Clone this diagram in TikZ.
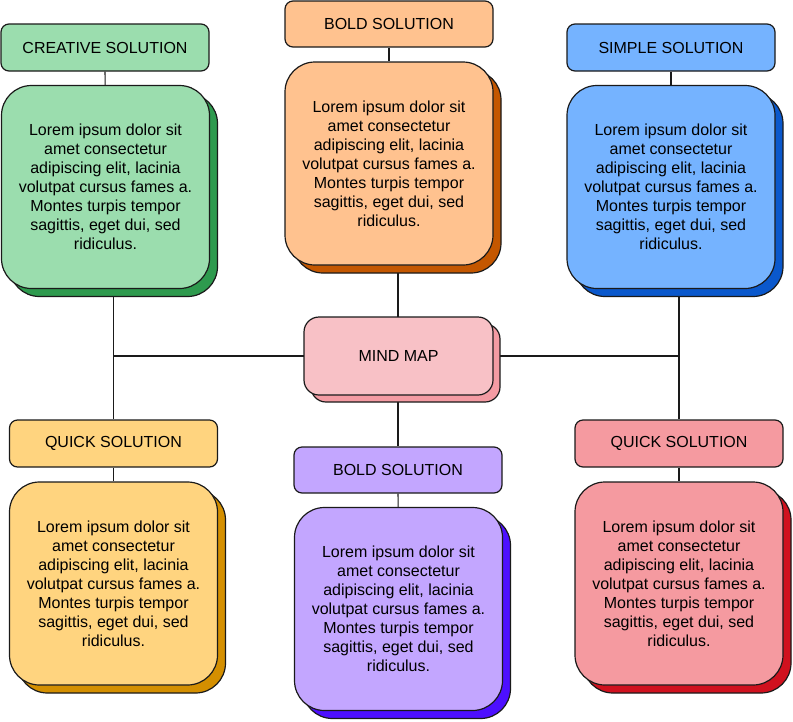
\documentclass[tikz,border=0pt]{standalone}
\usepackage{fontspec}
\setmainfont{Liberation Sans}
\usetikzlibrary{shadows,backgrounds}

\definecolor{MapGreen}{HTML}{9BDDAE}
\definecolor{MapGreenDark}{HTML}{2E9A4E}
\definecolor{MapOrange}{HTML}{FFC28F}
\definecolor{MapOrangeDark}{HTML}{C45700}
\definecolor{MapBlue}{HTML}{75B3FF}
\definecolor{MapBlueDark}{HTML}{0A58CC}
\definecolor{MapPink}{HTML}{F8C1C6}
\definecolor{MapPinkDark}{HTML}{F49BA3}
\definecolor{MapYellow}{HTML}{FFD47F}
\definecolor{MapYellowDark}{HTML}{D48F00}
\definecolor{MapPurple}{HTML}{C3A6FF}
\definecolor{MapPurpleDark}{HTML}{4D0FFF}
\definecolor{MapRed}{HTML}{F59AA0}
\definecolor{MapRedDark}{HTML}{D0111E}
\definecolor{MapLine}{HTML}{1A1A1A}

\tikzstyle{title-box}=[draw=MapLine, line width=1.2pt, rounded corners=8pt, minimum width=208pt, minimum height=47pt, inner sep=0pt, font=\fontsize{16}{19}\selectfont]
\tikzstyle{card-box}=[draw=MapLine, line width=1.2pt, rounded corners=30pt, minimum width=208pt, minimum height=203pt, inner sep=0pt, align=center, font=\fontsize{16}{19}\selectfont]
\tikzstyle{hub-box}=[draw=MapLine, line width=1.2pt, rounded corners=15pt, minimum width=189pt, minimum height=78pt, inner sep=0pt, font=\fontsize{16}{19}\selectfont]
\tikzstyle{link}=[draw=MapLine, line width=1.2pt]
\tikzset{card-shadow/.style={drop shadow={shadow xshift=8pt, shadow yshift=-8pt, fill=#1, draw=MapLine, line width=1.2pt, opacity=1}}}

\newcommand{\loremcard}{Lorem ipsum dolor sit\\ amet consectetur\\ adipiscing elit, lacinia\\ volutpat cursus fames a.\\ Montes turpis tempor\\ sagittis, eget dui, sed\\ ridiculus.}

\begin{document}
\begin{tikzpicture}[x=1pt, y=-1pt]
      \useasboundingbox (0,0) rectangle (793,721);

      % top row
      \node (title-creative) at (105,47.5) [title-box, fill=MapGreen] {CREATIVE SOLUTION};
      \node (card-creative) at (105.5,187) [card-box, fill=MapGreen, card-shadow=MapGreenDark] {\loremcard};
      \node (title-bold) at (389,24) [title-box, fill=MapOrange, minimum height=46pt] {BOLD SOLUTION};
      \node (card-bold) at (389,163.5) [card-box, fill=MapOrange, card-shadow=MapOrangeDark] {\loremcard};
      \node (title-simple) at (671,47.5) [title-box, fill=MapBlue] {SIMPLE SOLUTION};
      \node (card-simple) at (671,187) [card-box, fill=MapBlue, card-shadow=MapBlueDark] {\loremcard};

      % hub
      \node (map-center) at (398.5,356) [hub-box, fill=MapPink, drop shadow={shadow xshift=7pt, shadow yshift=-7pt, fill=MapPinkDark, draw=MapLine, line width=1.2pt, opacity=1}] {MIND MAP};

      % bottom row
      \node (title-quick) at (113.5,443.5) [title-box, fill=MapYellow] {QUICK SOLUTION};
      \node (card-quick) at (113.5,583.5) [card-box, fill=MapYellow, card-shadow=MapYellowDark] {\loremcard};
      \node (title-boldlow) at (398,470) [title-box, fill=MapPurple, minimum height=46pt] {BOLD SOLUTION};
      \node (card-boldlow) at (398.5,609) [card-box, fill=MapPurple, card-shadow=MapPurpleDark] {\loremcard};
      \node (title-quickred) at (679,443.5) [title-box, fill=MapRed] {QUICK SOLUTION};
      \node (card-quickred) at (679,583.5) [card-box, fill=MapRed, card-shadow=MapRedDark] {\loremcard};

      \begin{pgfonlayer}{background}
        \draw[link] (title-creative) -- (card-creative);
        \draw[link] (title-bold) -- (card-bold);
        \draw[link] (title-simple) -- (card-simple);
        \draw[link] (title-quick) -- (card-quick);
        \draw[link] (title-boldlow) -- (card-boldlow);
        \draw[link] (title-quickred) -- (card-quickred);

        \draw[link] (card-creative.south -| title-quick) -- (title-quick.north);
        \draw[link] (card-simple.south -| title-quickred) -- (title-quickred.north);
        \draw[link] (card-bold.south -| title-boldlow) -- (title-boldlow.north);
        \draw[link] (map-center.west -| title-quick) -- (map-center.east -| title-quickred);
      \end{pgfonlayer}
    \end{tikzpicture}
\end{document}
